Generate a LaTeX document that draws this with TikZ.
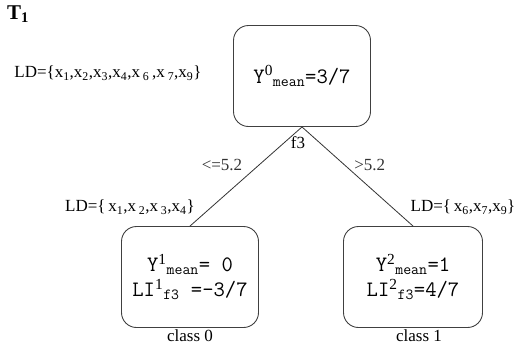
\documentclass[tikz,border=0pt]{standalone}
\usepackage{fontspec}
\setmainfont{Liberation Serif}
\usetikzlibrary{positioning}
\newcommand{\ymean}[2]{Y\textsuperscript{\rmfamily #1}\textsubscript{mean}#2}
\newcommand{\lifeat}[2]{LI\textsuperscript{\rmfamily #1}\textsubscript{f3}#2}

\begin{document}
\begin{tikzpicture}[x=1pt,y=-1pt,
    every node/.style={font=\fontsize{17}{20}\selectfont, inner sep=1pt},
    treebox/.style={draw=black!75, line width=0.9pt, rounded corners=15pt,
      minimum width=137pt, minimum height=101pt, align=center,
      font=\ttfamily\fontsize{22}{25}\selectfont}]

  \useasboundingbox (0,0) rectangle (517,354);

  \node[font=\bfseries\fontsize{21}{24}\selectfont] (title) at (18,14) {T\textsubscript{1}};

  % tree nodes
  \node[treebox] (root) at (302,76) {\ymean{0}{=3/7}};
  \node[treebox] (left) at (190,277) {\ymean{1}{= 0}\\ \lifeat{1}{ =-3/7}};
  \node[treebox, minimum width=139pt] (right) at (413,277) {\ymean{2}{=1}\\ \lifeat{2}{=4/7}};

  % learning sets
  \node (ldroot) at (108,73) {LD=\{x\textsubscript{1},x\textsubscript{2},x\textsubscript{3},x\textsubscript{4},x\,\textsubscript{6}\,,x\,\textsubscript{7},x\textsubscript{9}\}};
  \node (ldleft) at (130,207) {LD=\{\,x\textsubscript{1},x\,\textsubscript{2},x\,\textsubscript{3},x\textsubscript{4}\}};
  \node (ldright) at (463,207) {LD=\{\,x\textsubscript{6},x\textsubscript{7},x\textsubscript{9}\}};

  % split
  \node[below=8pt of root.south, xshift=-4pt] (feat) {f3};
  \draw[black!80, line width=0.8pt] (root.south) -- node[pos=0.45, left=8pt, yshift=7pt] (le) {<=5.2} (left.north);
  \draw[black!80, line width=0.8pt] (root.south) -- node[pos=0.45, right=1pt, yshift=7pt] (gt) {>5.2} (right.north);

  % classes
  \node[below=1pt of left.south] (cls0) {class 0};
  \node[below=1pt of right.south, xshift=6pt] (cls1) {class 1};

\end{tikzpicture}
\end{document}
